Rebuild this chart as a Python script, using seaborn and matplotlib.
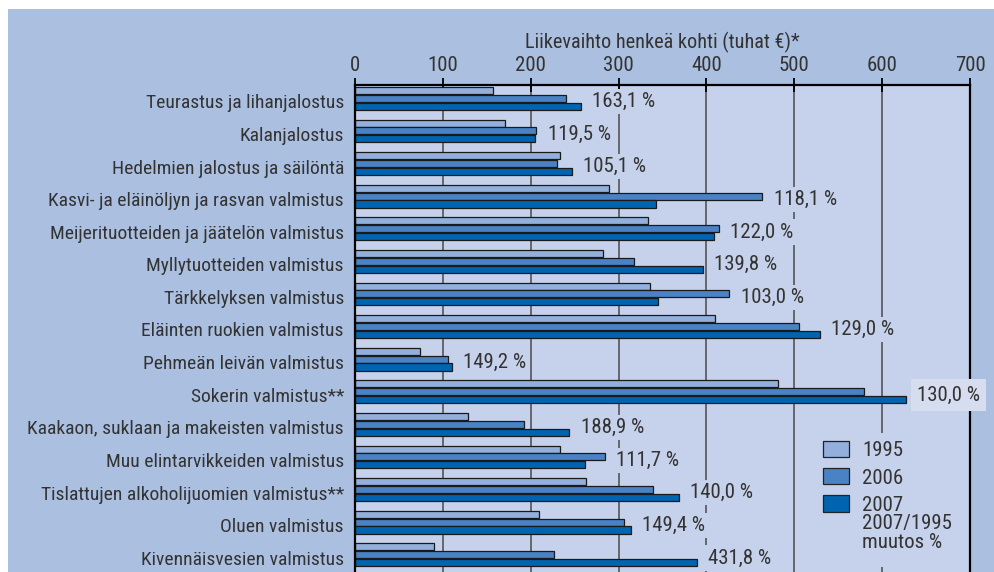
import matplotlib
matplotlib.use('Agg')
import matplotlib.pyplot as plt
import seaborn as sns
import pandas as pd
import numpy as np
from matplotlib import font_manager
from matplotlib.patches import Rectangle, Patch

categories = [
    "Teurastus ja lihanjalostus",
    "Kalanjalostus",
    "Hedelmien jalostus ja säilöntä",
    "Kasvi- ja eläinöljyn ja rasvan valmistus",
    "Meijerituotteiden ja jäätelön valmistus",
    "Myllytuotteiden valmistus",
    "Tärkkelyksen valmistus",
    "Eläinten ruokien valmistus",
    "Pehmeän leivän valmistus",
    "Sokerin valmistus**",
    "Kaakaon, suklaan ja makeisten valmistus",
    "Muu elintarvikkeiden valmistus",
    "Tislattujen alkoholijuomien valmistus**",
    "Oluen valmistus",
    "Kivennäisvesien valmistus",
]
years = ["1995", "2006", "2007"]
v1995 = [157.4, 170.4, 233.7, 289.5, 333.9, 282.7, 335.4, 409.8, 73.7, 481.9, 129.0, 233.7, 262.6, 209.4, 90.1]
v2006 = [239.8, 206.4, 229.6, 463.6, 414.3, 318.0, 426.1, 505.8, 105.5, 579.4, 192.0, 284.2, 339.6, 306.5, 226.9]
v2007 = [256.9, 204.9, 246.6, 342.6, 408.2, 395.7, 345.3, 529.3, 110.0, 626.8, 243.9, 261.4, 368.4, 313.8, 388.9]
change_labels = ["163,1 %", "119,5 %", "105,1 %", "118,1 %", "122,0 %", "139,8 %", "103,0 %",
                 "129,0 %", "149,2 %", "130,0 %", "188,9 %", "111,7 %", "140,0 %", "149,4 %", "431,8 %"]
title = "Liikevaihto henkeä kohti (tuhat €)*"
legend_extra = "2007/1995\nmuutos %"

outer_bg = "#abbfe0"
ax_bg = "#c6d2eb"
colors = ["#93afdc", "#4a83c5", "#0064b1"]
txt = "#333333"

sns.set_theme(style="white")
names = {f.name for f in font_manager.fontManager.ttflist}
fam = "Liberation Sans"
for cand in ["Liberation Sans Narrow", "Roboto Condensed", "Open Sans Condensed"]:
    if cand in names:
        fam = cand
        break
plt.rcParams["font.family"] = [fam, "DejaVu Sans"]

df = pd.DataFrame({
    "Toimiala": categories * 3,
    "Vuosi": [y for y in years for _ in categories],
    "Arvo": v1995 + v2006 + v2007,
})

W, H = 995, 572
fig = plt.figure(figsize=(W / 100, H / 100), dpi=100, facecolor="white")
fig.patches.append(Rectangle((8 / W, 0), 1 - 8 / W, (H - 9) / H, transform=fig.transFigure,
                             facecolor=outer_bg, edgecolor="none", zorder=-10))

top_px, bot_px, left_px, right_px = 85, 574, 355, 970
ax = fig.add_axes([left_px / W, (H - bot_px) / H, (right_px - left_px) / W, (bot_px - top_px) / H])
ax.set_facecolor(ax_bg)

sns.barplot(data=df, y="Toimiala", x="Arvo", hue="Vuosi", orient="h", palette=colors,
            width=0.72, gap=0.1, edgecolor="#1a1a1a", linewidth=0.9, saturation=1,
            legend=False, ax=ax, errorbar=None)

ax.set_xlim(0, 700)
ax.set_ylim(14.59, -0.41)
ax.xaxis.tick_top()
ax.xaxis.set_label_position("top")
ax.set_xticks(range(0, 701, 100))
ax.set_xlabel(title, labelpad=6, fontsize=14.6, color=txt)
ax.set_ylabel("")
ax.tick_params(axis="x", direction="inout", length=10, width=1.3, color="black",
               labelsize=15, pad=2, labelcolor=txt)
ax.set_axisbelow(True)
ax.grid(True, axis="x", which="major", color="#555555", lw=1.2)
ax.grid(False, axis="y")

n = len(categories)
ax.set_yticks(np.arange(n) - 0.41)
ax.set_yticklabels([""] * n)
ax.set_yticks(np.arange(n) + 0.09, minor=True)
ax.set_yticklabels(categories, minor=True)
ax.tick_params(axis="y", which="major", direction="inout", length=9, width=1.3, color="black")
ax.tick_params(axis="y", which="minor", length=0, pad=8, labelsize=14, labelcolor=txt)

for s in ["top", "left", "right"]:
    ax.spines[s].set_color("black")
    ax.spines[s].set_linewidth(1.6)
ax.spines["bottom"].set_visible(False)

for i, lab in enumerate(change_labels):
    xv = max(v1995[i], v2006[i], v2007[i]) + 13
    if xv + 75 > 700:
        box = dict(boxstyle="square,pad=0.3", fc="#d5ddef", ec="none")
    else:
        box = dict(boxstyle="square,pad=0.15", fc=ax_bg, ec="none")
    ax.text(xv, i + 0.1, lab, ha="left", va="center", fontsize=15, color=txt,
            bbox=box, zorder=5, clip_on=False)

# mask behind legend
ax.add_patch(Rectangle((802 / W, (H - 567) / H), 160 / W, 134 / H, transform=fig.transFigure,
                       facecolor=ax_bg, edgecolor="none", zorder=0.8))

handles = [Patch(facecolor=c, edgecolor="#222222", linewidth=0.9) for c in colors]
fs = 15
leg = ax.legend(handles, years, loc="upper left",
                bbox_to_anchor=((822.7 - left_px) / (right_px - left_px), (bot_px - 441) / (bot_px - top_px)),
                frameon=False, fontsize=fs, handlelength=26.7 / (fs * 100 / 72),
                handleheight=17 / (fs * 100 / 72), handletextpad=0.6, labelspacing=0.38,
                borderpad=0, borderaxespad=0)
for t in leg.get_texts():
    t.set_color(txt)
fig.text(861.7 / W, 1 - 514 / H, legend_extra, ha="left", va="top", fontsize=fs, color=txt,
         linespacing=1.0)

fig.savefig("out.png", dpi=100, facecolor="white")
